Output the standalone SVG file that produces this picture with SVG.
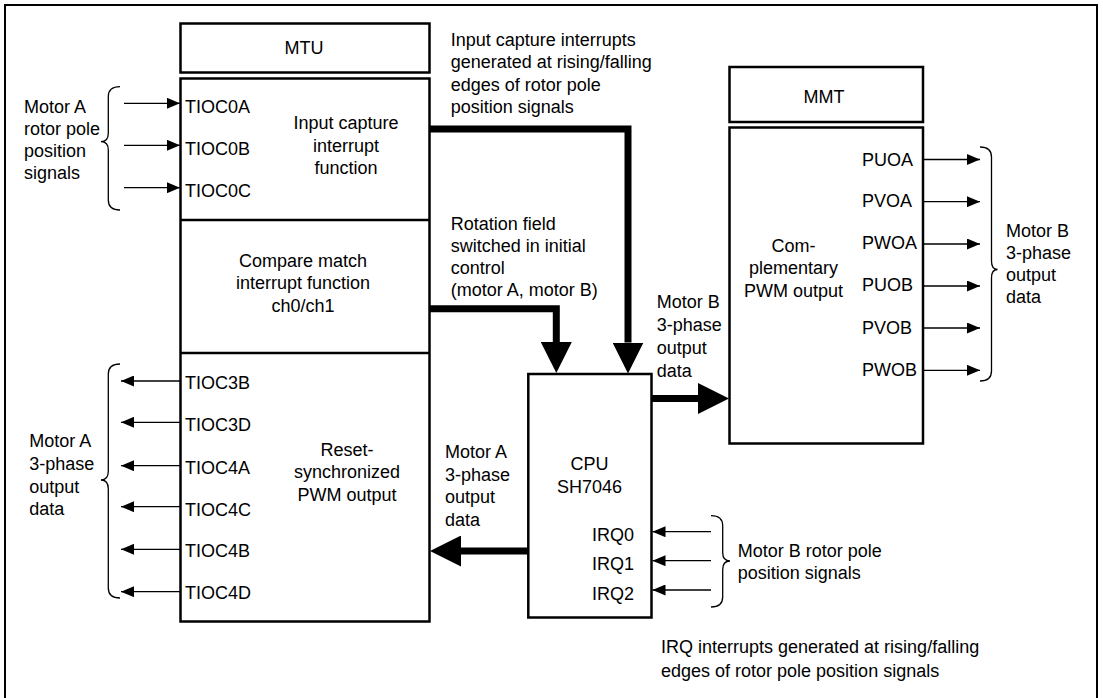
<svg xmlns="http://www.w3.org/2000/svg" width="1103" height="698" viewBox="0 0 1103 698">
  <style>
    text { font-family: "Liberation Sans", Arial, sans-serif; font-size: 18px; fill: #000; }
    .mid { text-anchor: middle; }
    .end { text-anchor: end; }
    .box { fill: #fff; stroke: #000; stroke-width: 2.5; }
    .div { fill: none; stroke: #000; stroke-width: 2.5; }
    .thin { fill: none; stroke: #000; stroke-width: 1.3; marker-end: url(#tip); }
    .thick { fill: none; stroke: #000; stroke-width: 7; stroke-linejoin: miter; marker-end: url(#bigtip); }
    .brace { fill: none; stroke: #000; stroke-width: 1.3; }
  </style>
  <defs>
    <marker id="tip" viewBox="0 0 13 11" refX="13" refY="5.5" markerWidth="13" markerHeight="11" markerUnits="userSpaceOnUse" orient="auto">
      <path d="M0,0 L13,5.5 L0,11 z" fill="#000"/>
    </marker>
    <marker id="bigtip" viewBox="0 0 31 31" refX="0" refY="15.5" markerWidth="31" markerHeight="31" markerUnits="userSpaceOnUse" orient="auto">
      <path d="M0,0 L31,15.5 L0,31 z" fill="#000"/>
    </marker>
  </defs>

  <rect width="1103" height="698" fill="#fff"/>
  <!-- outer frame (bottom edge runs past the canvas) -->
  <rect x="5" y="5" width="1092" height="700" fill="none" stroke="#000" stroke-width="2"/>

  <!-- MTU block -->
  <g id="mtu">
    <rect class="box" x="180.5" y="23.5" width="249" height="49"/>
    <text class="mid" x="304" y="53.5">MTU</text>
    <rect class="box" x="180.5" y="78.5" width="249" height="543"/>
    <line class="div" x1="180.5" y1="220" x2="429.5" y2="220"/>
    <line class="div" x1="180.5" y1="353" x2="429.5" y2="353"/>
    <text x="185" y="112.7">TIOC0A</text>
    <text x="185" y="155">TIOC0B</text>
    <text x="185" y="197.3">TIOC0C</text>
    <text class="mid" x="346"><tspan x="346" y="129.3">Input capture</tspan><tspan x="346" y="151.7">interrupt</tspan><tspan x="346" y="173.7">function</tspan></text>
    <text class="mid"><tspan x="303" y="267.3">Compare match</tspan><tspan x="303" y="289.3">interrupt function</tspan><tspan x="303" y="311.7">ch0/ch1</tspan></text>
    <text x="185" y="389.3">TIOC3B</text>
    <text x="185" y="430.7">TIOC3D</text>
    <text x="185" y="474">TIOC4A</text>
    <text x="185" y="516">TIOC4C</text>
    <text x="185" y="557.3">TIOC4B</text>
    <text x="185" y="599.3">TIOC4D</text>
    <text class="mid"><tspan x="347" y="456">Reset-</tspan><tspan x="347" y="478.3">synchronized</tspan><tspan x="347" y="500.7">PWM output</tspan></text>
  </g>

  <!-- MMT block -->
  <g id="mmt">
    <rect class="box" x="729.5" y="67" width="193.5" height="55"/>
    <text class="mid" x="824" y="103.3">MMT</text>
    <rect class="box" x="729.5" y="127.5" width="193.5" height="316"/>
    <text class="mid"><tspan x="793.5" y="251.7">Com-</tspan><tspan x="793.5" y="274.3">plementary</tspan><tspan x="793.5" y="296.7">PWM output</tspan></text>
    <text x="862" y="165.7">PUOA</text>
    <text x="862" y="207.3">PVOA</text>
    <text x="862" y="249.3">PWOA</text>
    <text x="862" y="291.3">PUOB</text>
    <text x="862" y="333.7">PVOB</text>
    <text x="862" y="376">PWOB</text>
  </g>

  <!-- CPU block -->
  <g id="cpu">
    <rect class="box" x="528.3" y="374" width="123.2" height="243.5"/>
    <text class="mid"><tspan x="589.5" y="470">CPU</tspan><tspan x="589.5" y="492.7">SH7046</tspan></text>
    <text class="end" x="634" y="540.7">IRQ0</text>
    <text class="end" x="634" y="570">IRQ1</text>
    <text class="end" x="634" y="600">IRQ2</text>
  </g>

  <!-- signal labels -->
  <g id="labels">
    <text><tspan x="24" y="112.7">Motor A</tspan><tspan x="24" y="135">rotor pole</tspan><tspan x="24" y="157">position</tspan><tspan x="24" y="179.3">signals</tspan></text>
    <text><tspan x="29.3" y="447.3">Motor A</tspan><tspan x="29.3" y="470">3-phase</tspan><tspan x="29.3" y="492.5">output</tspan><tspan x="29.3" y="514.5">data</tspan></text>
    <text><tspan x="450.7" y="46">Input capture interrupts</tspan><tspan x="450.7" y="68.3">generated at rising/falling</tspan><tspan x="450.7" y="90.7">edges of rotor pole</tspan><tspan x="450.7" y="112.7">position signals</tspan></text>
    <text><tspan x="450.7" y="230">Rotation field</tspan><tspan x="450.7" y="252.3">switched in initial</tspan><tspan x="450.7" y="274.3">control</tspan><tspan x="450.7" y="296">(motor A, motor B)</tspan></text>
    <text><tspan x="656.7" y="308.3">Motor B</tspan><tspan x="656.7" y="331">3-phase</tspan><tspan x="656.7" y="354">output</tspan><tspan x="656.7" y="376.7">data</tspan></text>
    <text><tspan x="445" y="457.7">Motor A</tspan><tspan x="445" y="480.5">3-phase</tspan><tspan x="445" y="503">output</tspan><tspan x="445" y="525.7">data</tspan></text>
    <text><tspan x="1006" y="236.7">Motor B</tspan><tspan x="1006" y="259">3-phase</tspan><tspan x="1006" y="281">output</tspan><tspan x="1006" y="303">data</tspan></text>
    <text><tspan x="737.7" y="556.7">Motor B rotor pole</tspan><tspan x="737.7" y="579">position signals</tspan></text>
    <text><tspan x="661" y="653.3">IRQ interrupts generated at rising/falling</tspan><tspan x="661" y="676.7">edges of rotor pole position signals</tspan></text>
  </g>

  <!-- braces grouping the signal lines -->
  <g id="braces">
    <path class="brace" d="M120,86.7 Q108.3,86.7 108.3,96.7 L108.3,133 Q108.3,141.7 101,141.7 Q108.3,141.7 108.3,150 L108.3,200 Q108.3,210 120,210"/>
    <path class="brace" d="M120,364 Q108.3,364 108.3,374 L108.3,471 Q108.3,480 101,480 Q108.3,480 108.3,489 L108.3,588 Q108.3,598 120,598"/>
    <path class="brace" d="M980,147 Q991.5,147 991.5,157 L991.5,261 Q991.5,269.5 997.5,269.5 Q991.5,269.5 991.5,278 L991.5,371 Q991.5,381 980,381"/>
    <path class="brace" d="M711,515.7 Q722.7,515.7 722.7,525.7 L722.7,552.5 Q722.7,561 730,561 Q722.7,561 722.7,569.5 L722.7,597 Q722.7,607 711,607"/>
  </g>

  <!-- connectors -->
  <g id="connectors">
    <line class="thin" x1="124" y1="103.3" x2="180" y2="103.3"/>
    <line class="thin" x1="124" y1="145.3" x2="180" y2="145.3"/>
    <line class="thin" x1="124" y1="187.7" x2="180" y2="187.7"/>

    <line class="thin" x1="180" y1="381" x2="121" y2="381"/>
    <line class="thin" x1="180" y1="422.3" x2="121" y2="422.3"/>
    <line class="thin" x1="180" y1="465.7" x2="121" y2="465.7"/>
    <line class="thin" x1="180" y1="506.7" x2="121" y2="506.7"/>
    <line class="thin" x1="180" y1="549.3" x2="121" y2="549.3"/>
    <line class="thin" x1="180" y1="591.7" x2="121" y2="591.7"/>

    <line class="thin" x1="923" y1="159.5" x2="980" y2="159.5"/>
    <line class="thin" x1="923" y1="201.7" x2="980" y2="201.7"/>
    <line class="thin" x1="923" y1="244" x2="980" y2="244"/>
    <line class="thin" x1="923" y1="286" x2="980" y2="286"/>
    <line class="thin" x1="923" y1="328" x2="980" y2="328"/>
    <line class="thin" x1="923" y1="370.3" x2="980" y2="370.3"/>

    <line class="thin" x1="711" y1="531.7" x2="652.5" y2="531.7"/>
    <line class="thin" x1="711" y1="560.7" x2="652.5" y2="560.7"/>
    <line class="thin" x1="711" y1="590" x2="652.5" y2="590"/>

    <path class="thick" d="M429.5,129 H628 V342.5"/>
    <path class="thick" d="M429.5,308.7 H556.3 V342"/>
    <path class="thick" d="M651.5,398.5 H698"/>
    <path class="thick" d="M528.3,551 H461"/>
  </g>
</svg>
